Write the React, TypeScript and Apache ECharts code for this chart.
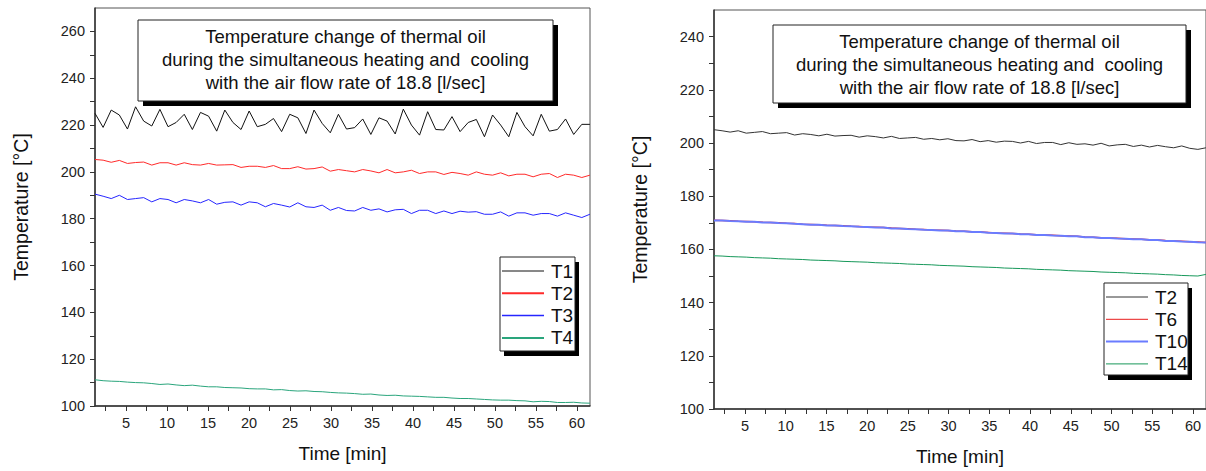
import React, { useEffect, useRef } from "react";
import * as echarts from "echarts";

const TIME = [1.2, 2.19, 3.18, 4.17, 5.16, 6.15, 7.14, 8.13, 9.12, 10.11, 11.1, 12.09, 13.08, 14.07, 15.06, 16.05, 17.04, 18.03, 19.02, 20.01, 21.0, 21.99, 22.98, 23.97, 24.96, 25.95, 26.94, 27.93, 28.92, 29.91, 30.9, 31.89, 32.88, 33.87, 34.86, 35.85, 36.84, 37.83, 38.82, 39.81, 40.8, 41.79, 42.78, 43.77, 44.76, 45.75, 46.74, 47.73, 48.72, 49.71, 50.7, 51.69, 52.68, 53.67, 54.66, 55.65, 56.64, 57.63, 58.62, 59.61, 60.6, 61.59];

// Left chart
const L_T1 = [225, 219, 226.4, 224.3, 218.3, 227.8, 221.7, 219.6, 226.7, 219.3, 221.1, 224.6, 218.1, 225.4, 223.8, 217.4, 226.4, 221.1, 218.1, 226, 219.3, 220.3, 222.8, 217.2, 224.6, 223.1, 216.4, 226.4, 220.7, 216.7, 224.6, 218.3, 218.9, 222.6, 216, 223.1, 221.7, 216.2, 226.8, 220, 215.7, 225.7, 218.1, 217.9, 223.6, 217.2, 221.1, 222.4, 215, 224.3, 220, 215, 225.4, 219.3, 215.4, 224.6, 217.4, 218.1, 222.6, 216, 220.3, 220.3];
const L_T2 = [205.3, 205.0, 204.1, 204.9, 203.6, 204.0, 204.2, 202.9, 203.9, 203.9, 202.9, 203.9, 203.1, 202.9, 203.6, 202.9, 203.0, 203.1, 201.9, 202.4, 202.4, 201.9, 202.7, 201.4, 201.4, 202.2, 201.2, 201.4, 202.1, 200.3, 201.0, 200.5, 200.0, 201.0, 200.4, 199.6, 201.0, 199.6, 200.0, 200.7, 199.3, 200.0, 200.0, 198.9, 199.8, 199.3, 198.6, 200.0, 199.0, 198.6, 199.6, 198.3, 199.0, 199.0, 197.9, 199.0, 199.3, 197.6, 199.0, 198.6, 197.6, 198.6];
const L_T3 = [190.5, 189.6, 188.6, 190.0, 188.2, 188.6, 189.0, 187.2, 188.6, 188.2, 186.8, 188.2, 187.6, 186.8, 188.2, 186.2, 187.0, 187.2, 185.8, 187.2, 186.8, 185.1, 186.5, 185.8, 185.0, 186.8, 185.1, 184.8, 185.8, 183.6, 184.8, 183.5, 183.3, 184.8, 183.6, 184.2, 182.9, 183.8, 184.0, 182.2, 183.6, 183.6, 182.2, 183.3, 182.2, 183.2, 182.8, 183.0, 181.9, 181.9, 182.9, 181.1, 182.5, 182.5, 181.5, 182.2, 182.2, 181.1, 182.5, 181.5, 180.5, 181.9];
const L_T4 = [111.2, 110.8, 110.6, 110.5, 110.2, 110.0, 109.9, 109.6, 109.2, 109.4, 109.0, 108.7, 108.9, 108.5, 108.2, 108.2, 107.9, 107.8, 107.7, 107.4, 107.3, 107.3, 106.9, 107.0, 106.6, 106.4, 106.5, 106.2, 106.1, 105.8, 105.6, 105.5, 105.3, 105.0, 105.1, 104.7, 104.5, 104.6, 104.3, 104.2, 104.1, 103.9, 103.7, 103.7, 103.4, 103.2, 103.2, 103.0, 102.8, 102.6, 102.5, 102.5, 102.3, 102.2, 101.8, 102.0, 101.9, 101.5, 101.5, 101.6, 101.3, 101.2];

// Right chart
const R_T2 = [205.0, 204.6, 204.1, 204.6, 203.7, 204.0, 204.3, 203.5, 203.7, 203.9, 203.0, 203.5, 203.2, 202.7, 203.3, 202.6, 202.8, 202.9, 202.2, 202.7, 202.4, 201.9, 202.5, 201.7, 201.9, 202.1, 201.4, 201.7, 201.2, 201.6, 200.9, 200.8, 201.3, 200.5, 200.9, 200.3, 200.7, 200.6, 200.0, 200.6, 199.8, 200.2, 200.2, 199.4, 200.1, 199.5, 199.7, 199.2, 199.9, 198.9, 199.3, 199.5, 198.7, 199.2, 198.5, 199.1, 198.6, 198.2, 198.9, 198.0, 197.6, 198.2];
const R_T6 = [171.0, 170.9, 170.8, 170.6, 170.5, 170.4, 170.2, 170.1, 170.0, 169.8, 169.7, 169.5, 169.4, 169.3, 169.1, 169.0, 168.9, 168.7, 168.6, 168.4, 168.3, 168.2, 168.0, 167.9, 167.8, 167.6, 167.5, 167.3, 167.2, 167.1, 166.9, 166.8, 166.6, 166.5, 166.4, 166.2, 166.1, 166.0, 165.8, 165.7, 165.5, 165.4, 165.3, 165.1, 165.0, 164.9, 164.7, 164.6, 164.4, 164.3, 164.2, 164.0, 163.9, 163.8, 163.6, 163.5, 163.3, 163.2, 163.1, 162.9, 162.8, 162.6];
const R_T10 = [170.9, 170.9, 170.7, 170.6, 170.4, 170.4, 170.1, 170.1, 169.9, 169.8, 169.6, 169.5, 169.3, 169.3, 169.0, 169.0, 168.8, 168.7, 168.5, 168.4, 168.2, 168.2, 167.9, 167.9, 167.7, 167.6, 167.4, 167.3, 167.1, 167.1, 166.8, 166.8, 166.5, 166.5, 166.3, 166.2, 166.0, 166.0, 165.7, 165.7, 165.4, 165.4, 165.2, 165.1, 164.9, 164.9, 164.6, 164.6, 164.3, 164.3, 164.1, 164.0, 163.8, 163.8, 163.5, 163.5, 163.2, 163.2, 163.0, 162.9, 162.7, 162.6];
const R_T14 = [157.6, 157.5, 157.3, 157.2, 157.1, 156.9, 156.8, 156.7, 156.5, 156.4, 156.3, 156.2, 156.0, 155.9, 155.8, 155.7, 155.5, 155.4, 155.3, 155.2, 155.0, 154.9, 154.8, 154.7, 154.5, 154.4, 154.3, 154.2, 154.0, 153.9, 153.8, 153.7, 153.5, 153.4, 153.3, 153.2, 153.0, 152.9, 152.8, 152.7, 152.5, 152.4, 152.3, 152.2, 152.0, 151.9, 151.8, 151.7, 151.5, 151.4, 151.3, 151.2, 151.0, 150.9, 150.8, 150.7, 150.5, 150.4, 150.2, 150.1, 150.0, 150.6];

const X_LABELS = [5, 10, 15, 20, 25, 30, 35, 40, 45, 50, 55, 60];
const X_TICKS = [2.5, 5, 7.5, 10, 12.5, 15, 17.5, 20, 22.5, 25, 27.5, 30, 32.5, 35, 37.5, 40, 42.5, 45, 47.5, 50, 52.5, 55, 57.5, 60];
const L_Y_LABELS = [100, 120, 140, 160, 180, 200, 220, 240, 260];
const L_Y_TICKS = [100, 110, 120, 130, 140, 150, 160, 170, 180, 190, 200, 210, 220, 230, 240, 250, 260];
const R_Y_LABELS = [100, 120, 140, 160, 180, 200, 220, 240];
const R_Y_TICKS = [100, 110, 120, 130, 140, 150, 160, 170, 180, 190, 200, 210, 220, 230, 240];

const LEFT_NAMES = ["T1", "T2", "T3", "T4"];
const LEFT_COLORS = ["#111111", "#ff2a2a", "#2626ff", "#2aa57c"];
const RIGHT_NAMES = ["T2", "T6", "T10", "T14"];
const RIGHT_COLORS = ["#333333", "#e81c1c", "#6a7cff", "#17985a"];

const TITLE_LINES = [
  "Temperature change of thermal oil",
  "during the simultaneous heating and  cooling",
  "with the air flow rate of 18.8 [l/sec]",
];

const FONT = "Arial, 'Liberation Sans', sans-serif";

function pairs(vals: number[]) {
  return vals.map((v, i) => [TIME[i], v]);
}

function titleBox(x: number, y: number, w: number, h: number) {
  const children: any[] = [
    { type: "rect", shape: { x: x + 5, y: y + 5, width: w, height: h }, style: { fill: "#000" } },
    { type: "rect", shape: { x, y, width: w, height: h }, style: { fill: "#fff", stroke: "#222", lineWidth: 1 } },
  ];
  TITLE_LINES.forEach((t, i) => {
    children.push({
      type: "text",
      x: x + w / 2,
      y: y + 16 + i * 23,
      style: { text: t, fill: "#111", font: `18.5px ${FONT}`, textAlign: "center", textVerticalAlign: "middle" },
    });
  });
  return { type: "group", children };
}

function legendBox(x: number, y: number, w: number, h: number, names: string[], colors: string[], widths: number[]) {
  const children: any[] = [
    { type: "rect", shape: { x: x + 4, y: y + 5, width: w, height: h }, style: { fill: "#000" } },
    { type: "rect", shape: { x, y, width: w, height: h }, style: { fill: "#fff", stroke: "#222", lineWidth: 1 } },
  ];
  names.forEach((n, i) => {
    const cy = y + 14 + i * 22.3;
    children.push({
      type: "line",
      shape: { x1: x + 2, y1: cy, x2: x + 44, y2: cy },
      style: { stroke: colors[i], lineWidth: widths[i] },
    });
    children.push({
      type: "text",
      x: x + 51,
      y: cy,
      style: { text: n, fill: "#111", font: `19px ${FONT}`, textVerticalAlign: "middle" },
    });
  });
  return { type: "group", children };
}

function xAxis(gridIndex: number) {
  return {
    type: "value",
    gridIndex,
    min: 1.2,
    max: 61.6,
    name: "Time [min]",
    nameLocation: "middle",
    nameGap: 38,
    nameTextStyle: { fontFamily: FONT, fontSize: 19, color: "#111" },
    axisLine: { show: true, onZero: false, lineStyle: { color: "#333", width: 1.5 } },
    axisTick: { show: true, inside: false, length: 5, customValues: X_TICKS, lineStyle: { color: "#333" } },
    axisLabel: { customValues: X_LABELS, fontFamily: FONT, fontSize: 14.5, color: "#222", margin: 9 },
    splitLine: { show: false },
  };
}

function yAxis(gridIndex: number, max: number, labels: number[], ticks: number[]) {
  return {
    type: "value",
    gridIndex,
    min: 100,
    max,
    name: "Temperature [°C]",
    nameLocation: "middle",
    nameGap: 64,
    nameTextStyle: { fontFamily: FONT, fontSize: 19.5, color: "#111" },
    axisLine: { show: true, onZero: false, lineStyle: { color: "#333", width: 1.5 } },
    axisTick: { show: true, inside: false, length: 5, customValues: ticks, lineStyle: { color: "#333" } },
    axisLabel: { customValues: labels, fontFamily: FONT, fontSize: 14.5, color: "#222", margin: 10 },
    splitLine: { show: false },
  };
}

export default function App() {
  const ref = useRef<HTMLDivElement>(null);
  useEffect(() => {
    document.body.style.margin = "0";
    document.body.style.overflow = "hidden";
    const chart = echarts.init(ref.current!, undefined, { renderer: "svg" });
    const leftSeries = [L_T1, L_T2, L_T3, L_T4].map((d, i) => ({
      name: LEFT_NAMES[i],
      type: "line",
      xAxisIndex: 0,
      yAxisIndex: 0,
      data: pairs(d),
      showSymbol: false,
      lineStyle: { color: LEFT_COLORS[i], width: 1 },
      itemStyle: { color: LEFT_COLORS[i] },
    }));
    const rightWidths = [1, 1.5, 2, 1];
    const rightSeries = [R_T2, R_T6, R_T10, R_T14].map((d, i) => ({
      name: "R" + RIGHT_NAMES[i],
      type: "line",
      xAxisIndex: 1,
      yAxisIndex: 1,
      data: pairs(d),
      showSymbol: false,
      lineStyle: { color: RIGHT_COLORS[i], width: rightWidths[i] },
      itemStyle: { color: RIGHT_COLORS[i] },
    }));
    chart.setOption({
      animation: false,
      backgroundColor: "#fff",
      grid: [
        { left: 95, top: 8, width: 495, height: 398, show: true, borderColor: "#555", borderWidth: 1, backgroundColor: "transparent" },
        { left: 714, top: 10, width: 494, height: 399, show: true, borderColor: "#555", borderWidth: 1, backgroundColor: "transparent" },
      ],
      xAxis: [xAxis(0), xAxis(1)],
      yAxis: [yAxis(0, 270, L_Y_LABELS, L_Y_TICKS), yAxis(1, 250, R_Y_LABELS, R_Y_TICKS)],
      series: [...leftSeries, ...rightSeries],
      graphic: [
        titleBox(138, 20, 415, 81),
        legendBox(500, 257, 75, 94, LEFT_NAMES, LEFT_COLORS, [1, 2, 1.5, 2]),
        titleBox(773, 25, 413, 78),
        legendBox(1104, 283, 84, 92, RIGHT_NAMES, RIGHT_COLORS, [1, 1, 2, 1]),
      ],
    });
    return () => chart.dispose();
  }, []);
  return <div ref={ref} style={{ position: "absolute", left: 0, top: 0, width: 1206, height: 471 }} />;
}
